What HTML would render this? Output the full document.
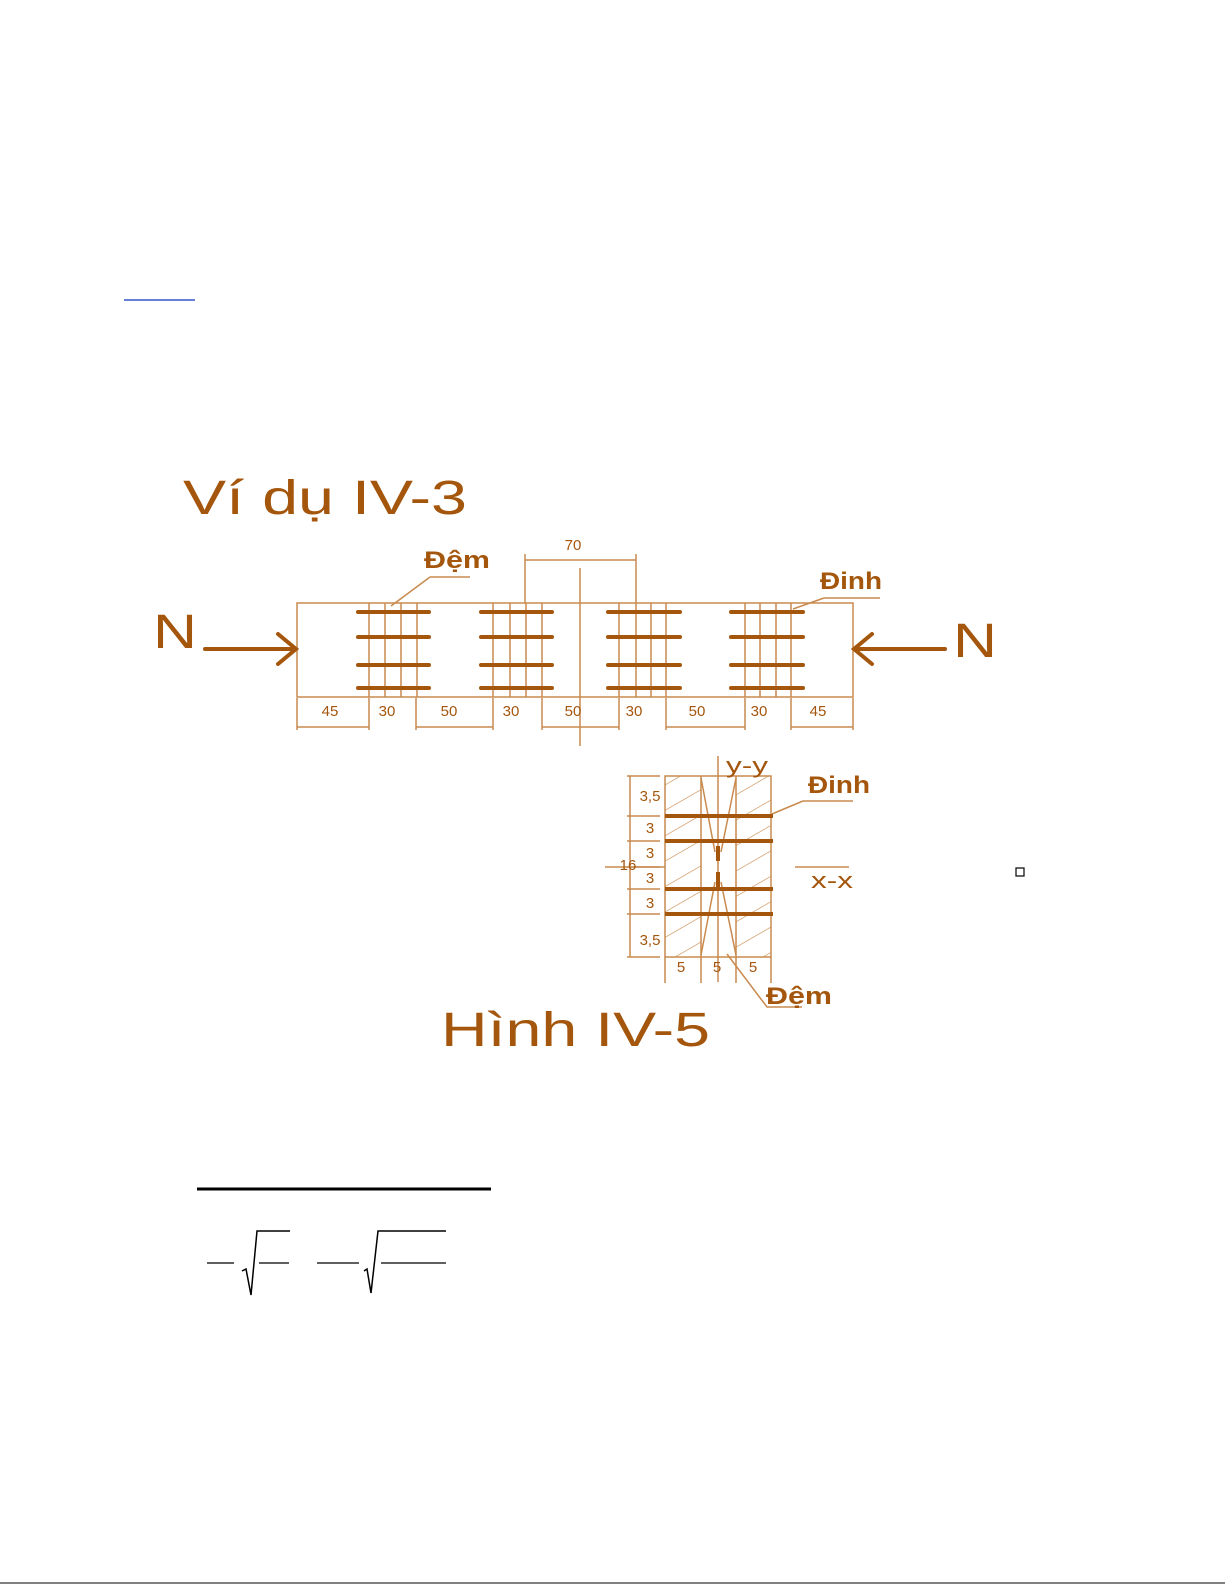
<!DOCTYPE html>
<html><head><meta charset="utf-8"><style>
html,body{margin:0;padding:0;background:#fff;}
svg{display:block}
text{font-family:"Liberation Sans","DejaVu Sans",sans-serif;fill:#a4560c}
</style></head><body>
<svg width="1225" height="1585" viewBox="0 0 1225 1585" xmlns="http://www.w3.org/2000/svg">
<defs>
<pattern id="hat" patternUnits="userSpaceOnUse" width="22" height="22" patternTransform="rotate(-30)">
<line x1="0" y1="0" x2="22" y2="0" stroke="#c98a4e" stroke-width="1.2"/>
</pattern>
</defs>
<line x1="124" y1="300" x2="195" y2="300" stroke="#3355cc" stroke-width="1.5"/>
<text x="183" y="514" font-size="48" textLength="284" lengthAdjust="spacingAndGlyphs">Ví dụ IV-3</text>
<g stroke="#c98a4e" stroke-width="1.5" fill="none">
<rect x="297" y="603" width="556" height="94"/>
<path d="M369 603V697M385 603V697M401 603V697M417 603V697
M493 603V697M510 603V697M526 603V697M542 603V697
M619 603V697M636 603V697M651 603V697M666 603V697
M745 603V697M760 603V697M776 603V697M791 603V697"/>
<path d="M580 568V746"/>
<path d="M525 560H636M525 554V603M636 554V603"/>
<path d="M297 698V730M369 698V730M416 698V730M493 698V730M542 698V730M619 698V730M666 698V730M745 698V730M791 698V730M853 698V730"/>
<path d="M297 727H369M416 727H493M542 727H619M666 727H745M791 727H853"/>
<path d="M430 577H470M430 577L391 606"/>
<path d="M824 598H880M824 598L793 609"/>
</g>
<g stroke="#a4560c" stroke-width="4" stroke-linecap="round" fill="none">
<path d="M358 612H429M358 637H429M358 665H429M358 688H429
M481 612H552M481 637H552M481 665H552M481 688H552
M608 612H680M608 637H680M608 665H680M608 688H680
M731 612H803M731 637H803M731 665H803M731 688H803"/>
<path d="M205 649H295M278 634L296 649L278 664"/>
<path d="M945 649H855M872 634L854 649L872 664"/>
</g>
<g font-size="15" text-anchor="middle">
<text x="573" y="550">70</text>
<text x="330" y="716">45</text><text x="387" y="716">30</text><text x="449" y="716">50</text>
<text x="511" y="716">30</text><text x="573" y="716">50</text><text x="634" y="716">30</text>
<text x="697" y="716">50</text><text x="759" y="716">30</text><text x="818" y="716">45</text>
</g>
<text x="424" y="568" font-size="24" font-weight="bold" textLength="66" lengthAdjust="spacingAndGlyphs">Đệm</text>
<text x="820" y="589" font-size="24" font-weight="bold" textLength="62" lengthAdjust="spacingAndGlyphs">Đinh</text>
<text x="153" y="648" font-size="48" textLength="44" lengthAdjust="spacingAndGlyphs">N</text>
<text x="953" y="657" font-size="48" textLength="44" lengthAdjust="spacingAndGlyphs">N</text>

<rect x="665" y="776" width="36" height="181" fill="url(#hat)"/>
<rect x="736" y="776" width="35" height="181" fill="url(#hat)"/>
<g stroke="#c98a4e" stroke-width="1.5" fill="none">
<rect x="665" y="776" width="106" height="181"/>
<path d="M701 776V957M736 776V957"/>
<path d="M718 756V982"/>
<path d="M701 778L715 852M736 778L721 852M701 955L715 882M736 955L721 882"/>
<path d="M605 867H665M795 867H849"/>
<path d="M630 776V957M627 776H660M627 816H660M627 841H660M627 867H660M627 889H660M627 914H660M627 957H660"/>
<path d="M665 957V983M701 957V983M736 957V983M771 957V983"/>
<path d="M803 801H853M803 801L772 814"/>
<path d="M727 954L767 1007H802"/>
</g>
<g stroke="#a4560c" stroke-width="4">
<path d="M665 816H773M665 841H773M665 889H773M665 914H773"/>
<path d="M718 846V861M718 872V887"/>
</g>
<g font-size="15" text-anchor="middle">
<text x="650" y="801">3,5</text><text x="650" y="833">3</text><text x="650" y="858">3</text>
<text x="650" y="883">3</text><text x="650" y="908">3</text><text x="650" y="945">3,5</text>
<text x="628" y="870">16</text>
<text x="681" y="972">5</text><text x="717" y="972">5</text><text x="753" y="972">5</text>
</g>
<text x="726" y="773" font-size="22" textLength="42" lengthAdjust="spacingAndGlyphs">y-y</text>
<text x="811" y="888" font-size="22" textLength="42" lengthAdjust="spacingAndGlyphs">x-x</text>
<text x="808" y="793" font-size="24" font-weight="bold" textLength="62" lengthAdjust="spacingAndGlyphs">Đinh</text>
<text x="766" y="1004" font-size="24" font-weight="bold" textLength="66" lengthAdjust="spacingAndGlyphs">Đệm</text>
<text x="441" y="1046" font-size="48" textLength="269" lengthAdjust="spacingAndGlyphs">Hình IV-5</text>
<rect x="1016" y="868" width="8" height="8" fill="none" stroke="#000" stroke-width="1.2"/>

<line x1="197" y1="1189" x2="491" y2="1189" stroke="#000" stroke-width="3"/>
<g stroke="#000" fill="none" stroke-width="1.2">
<path d="M207 1263H234M259 1263H289M317 1263H359M381 1263H446"/>
<path d="M242 1271L246 1269L251 1295L257 1231H290" stroke-width="1.5"/>
<path d="M364 1271L367 1269L371 1293L378 1231H446" stroke-width="1.5"/>
</g>
<line x1="0" y1="1583" x2="1225" y2="1583" stroke="#000" stroke-width="1"/>
</svg>
</body></html>
